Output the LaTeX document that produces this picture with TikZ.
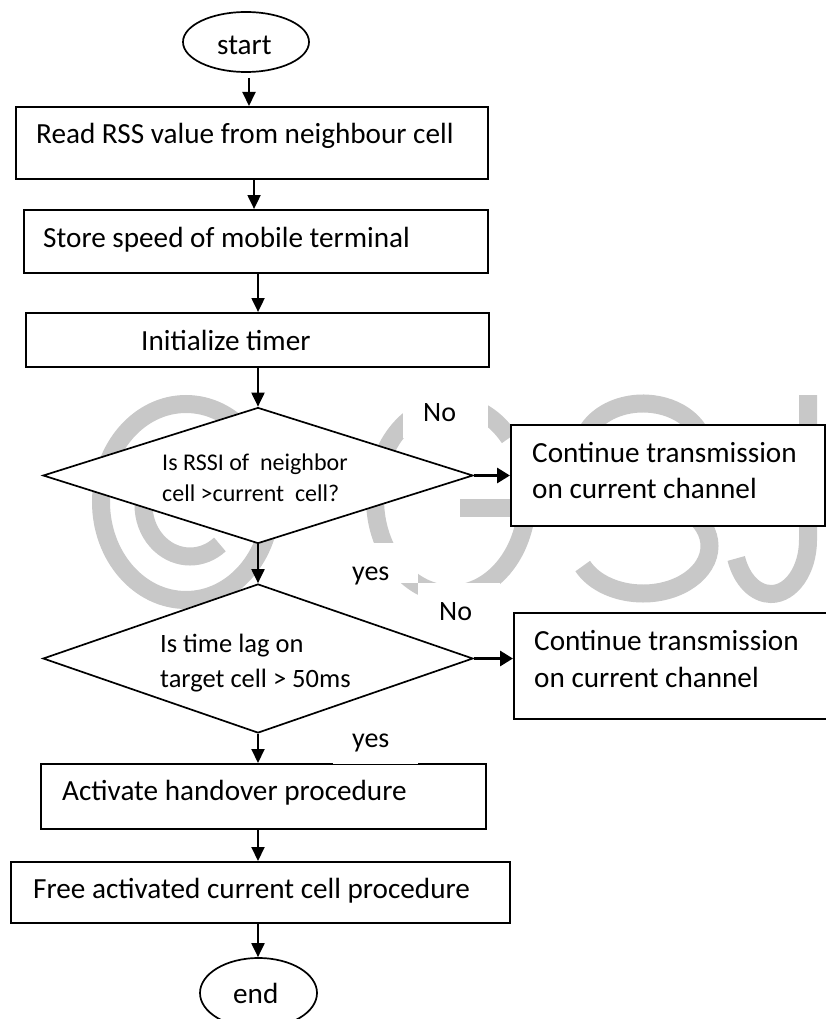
\documentclass[tikz,border=0pt]{standalone}
\usepackage{fontspec}
\setmainfont{Carlito}
\usetikzlibrary{arrows.meta,shapes.geometric}
\definecolor{wmgray}{HTML}{C8C8C8}
\begin{document}
\begin{tikzpicture}[x=1pt,y=-1pt,
  box/.style={draw,line width=2.1pt,fill=white,rectangle,inner sep=0pt,anchor=north west},
  dia/.style={draw,line width=1.7pt,fill=white,diamond,inner sep=0pt},
  term/.style={draw,line width=1.7pt,fill=white,ellipse,inner sep=0pt},
  txt/.style={anchor=base west,inner sep=0pt,font=\fontsize{29.2}{36}\selectfont},
  qtxt/.style={anchor=base west,inner sep=0pt,font=\fontsize{24}{30}\selectfont},
  qtxtb/.style={anchor=base west,inner sep=0pt,font=\fontsize{26.5}{32}\selectfont},
  lbl/.style={anchor=base west,inner sep=0pt,font=\fontsize{28}{34}\selectfont},
  flow/.style={line width=2pt,-{Triangle[length=14pt,width=13pt]}},
  side/.style={line width=3pt,-{Triangle[length=13pt,width=15pt]}},
  wm/.style={draw=wmgray,line width=18pt}
]
\useasboundingbox (0,0) rectangle (826,1019);
\fill[white] (0,0) rectangle (826,1019);

% copyright mark in the background
\draw[wm] (186,502) ellipse [x radius=85, y radius=98];
\draw[wm] (190,505) ++(-50:46.5 and 51.5)
  arc[start angle=-50,end angle=-310,x radius=46.5,y radius=51.5];
% G
\draw[wm] (451,499) ++(-40:76 and 95)
  arc[start angle=-40,end angle=-360,x radius=76,y radius=95];
\draw[wm] (535,508) -- (460,508);
% S
\draw[wm] (643,451) ++(-25:61.5 and 47.5)
  arc[start angle=-25,end angle=-270,x radius=61.5,y radius=47.5]
  arc[start angle=-90,end angle=155,x radius=66.5,y radius=47.5];
% J
\draw[wm] (808,395) -- (808,540)
  arc[start angle=0,end angle=160,x radius=37,y radius=54];

% flow chart nodes
\node[term,minimum width=126,minimum height=60] (start) at (246,42) {};
\node[txt] (tstart) at (217,55) {start};

\node[box,minimum width=472,minimum height=72] (b1) at (15,106) {};
\node[txt] (t1) at (36,144) {Read RSS value from neighbour cell};

\node[box,minimum width=464,minimum height=63] (b2) at (23,209) {};
\node[txt] (t2) at (43,247) {Store speed of mobile terminal};

\node[box,minimum width=463,minimum height=54] (b3) at (25,312) {};
\node[txt] (t3) at (141,350) {Initialize timer};

\node[dia,minimum width=430,minimum height=136] (d1) at (258,475.5) {};
\node[qtxt] (q1a) at (162,470) {Is RSSI of\ \ neighbor};
\node[qtxt] (q1b) at (162,501) {cell >current\ \ cell?};

\node[box,minimum width=314,minimum height=101] (r1) at (510,424) {};
\node[txt] (r1a) at (532,462) {Continue transmission};
\node[txt] (r1b) at (532,498) {on current channel};

\node[dia,minimum width=430,minimum height=149] (d2) at (258,658.5) {};
\node[qtxtb] (q2a) at (160,652) {Is time lag on};
\node[qtxtb] (q2b) at (160,687) {target cell > 50ms};

\node[box,minimum width=320,minimum height=106] (r2) at (513,612) {};
\node[txt] (r2a) at (534,650) {Continue transmission};
\node[txt] (r2b) at (534,687) {on current channel};

\node[box,minimum width=445,minimum height=65] (b5) at (40,763) {};
\node[txt] (t5) at (62,800) {Activate handover procedure};

\node[box,minimum width=499,minimum height=61] (b6) at (10,861) {};
\node[txt] (t6) at (33,898) {Free activated current cell procedure};

\node[term,minimum width=117,minimum height=70] (end) at (258.5,993) {};
\node[txt] (tend) at (233,1003) {end};

% connectors
\draw[flow] ([xshift=3pt,yshift=-5pt]start.south) -- ([xshift=3pt]start.south |- b1.north);
\draw[flow] ([xshift=2pt]b1.south) -- ([xshift=2pt]b1.south |- b2.north);
\draw[flow] ([xshift=2pt]b2.south) -- ([xshift=2pt]b2.south |- b3.north);
\draw[flow] (b3.south -| d1.north) -- (d1.north);
\draw[side] (d1.east) -- (d1.east -| r1.west);
\draw[flow] (d1.south) -- (d2.north);
\draw[side] (d2.east) -- (d2.east -| r2.west);
\draw[flow] (d2.south) -- (d2.south |- b5.north);
\draw[flow] (b5.south -| d2.south) -- (d2.south |- b6.north);
\draw[flow] (b6.south -| d2.south) -- (d2.south |- end.north);

% branch labels on white patches
\fill[white] (403,395) rectangle (488,438);
\node[lbl] (no1) at (423,421) {No};
\fill[white] (316,543) rectangle (418,583);
\node[lbl] (yes1) at (352,580) {yes};
\fill[white] (418,583) rectangle (500,625);
\node[lbl] (no2) at (439,620) {No};
\fill[white] (333,727) rectangle (418,764);
\node[lbl] (yes2) at (352,747) {yes};
\end{tikzpicture}
\end{document}
